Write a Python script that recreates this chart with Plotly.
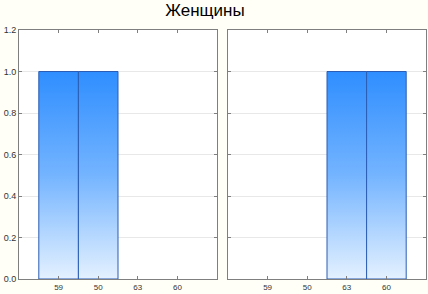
import plotly.graph_objects as go

title = "Женщины"
categories = ["59", "50", "63", "60"]
left_values = [1, 1, 0, 0]
right_values = [0, 0, 1, 1]
y_ticks = [0.0, 0.2, 0.4, 0.6, 0.8, 1.0, 1.2]

positions = list(range(len(categories)))
grad = dict(type="vertical", colorscale=[[0, "#e4f1ff"], [0.5, "#74b4ff"], [1, "#2f8eff"]])

fig = go.Figure()

def add_panel(values, xa, ya):
    xs = [p for p, v in zip(positions, values) if v > 0]
    ys = [v for v in values if v > 0]
    for p, v in zip(xs, ys):
        fig.add_trace(go.Scatter(
            x=[p - 0.5, p + 0.5, p + 0.5, p - 0.5, p - 0.5],
            y=[0, 0, v, v, 0],
            fill="toself", fillgradient=grad, mode="lines",
            line=dict(width=1, color="#2a5db3"),
            xaxis=xa, yaxis=ya, showlegend=False, hoverinfo="skip"))

add_panel(left_values, "x", "y")
add_panel(right_values, "x2", "y2")

axis_common = dict(showline=True, linecolor="#7f7f7f", linewidth=1, mirror="allticks",
                   ticks="inside", ticklen=3, tickcolor="#7f7f7f", zeroline=False,
                   automargin=False)

fig.update_layout(
    width=428, height=294,
    margin=dict(l=19, r=2, t=30, b=15),
    paper_bgcolor="#fffff7", plot_bgcolor="#ffffff",
    title=dict(text=title, x=205 / 428, xanchor="center", y=0.985, yanchor="top",
               font=dict(family="Liberation Sans, Arial", size=17, color="#000000"),
               automargin=False),
    font=dict(family="Liberation Sans, Arial", size=8, color="#333333"),
    xaxis=dict(domain=[0, 198 / 407], range=[-1, 4], tickvals=positions, ticktext=categories,
               showgrid=False, ticklabelstandoff=0, **axis_common),
    xaxis2=dict(domain=[209 / 407, 1], range=[-1, 4], tickvals=positions, ticktext=categories,
                showgrid=False, anchor="y2", ticklabelstandoff=0, **axis_common),
    yaxis=dict(range=[0, 1.2], tickvals=y_ticks, tickformat=".1f", showgrid=True,
               gridcolor="#e8e8e8", ticklabelstandoff=0, tickfont=dict(size=9), **axis_common),
    yaxis2=dict(range=[0, 1.2], tickvals=y_ticks, showticklabels=False, showgrid=True,
                gridcolor="#e8e8e8", anchor="x2", **axis_common),
)

fig.write_html("out.html", config={"displayModeBar": False},
               post_script="document.body.style.margin='0';document.body.style.background='#fffff7';")
